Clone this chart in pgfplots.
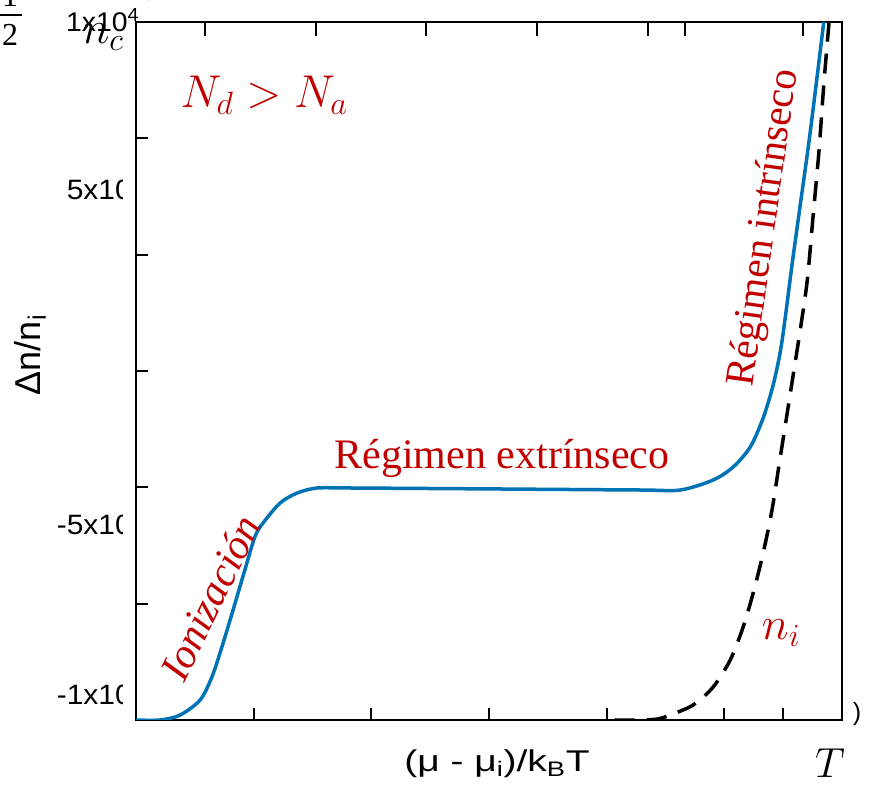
\RequirePackage{fix-cm}
\documentclass[border=0pt]{standalone}
\usepackage{pgfplots}
\pgfplotsset{compat=1.18}
\usepackage{fontspec}
\setmainfont{Liberation Serif}
\setsansfont{Liberation Sans}
\definecolor{curveblue}{RGB}{0,115,180}
\definecolor{labelred}{RGB}{192,0,0}

\begin{document}
\begin{tikzpicture}
\path[use as bounding box] (0,0) rectangle (872pt,786pt);

\begin{axis}[
    at={(136pt,66pt)}, anchor=south west, scale only axis,
    width=706pt, height=698pt,
    xmin=0, xmax=12, ymin=-10000, ymax=10000,
    tick align=inside, major tick length=12pt,
    tick style={line width=2.2pt, black},
    axis line style={line width=2.4pt, black},
    xticklabels={}, yticklabels={},
    xtick pos=bottom, ytick pos=left,
    xtick={2,4,6,8,10,11},
    ytick={-6667,-3333,0,3333,6667}]
% total carrier curve
\addplot[curveblue, line width=3.5pt, smooth, tension=0.5] coordinates {
  (0,-10000) (0.41,-10000) (0.75,-9857) (1.09,-9427) (1.29,-8768)
  (1.46,-7908) (1.65,-6848) (1.85,-5702) (2.02,-4756) (2.16,-4355)
  (2.45,-3782) (2.74,-3496) (3.08,-3352) (3.59,-3352) (6.19,-3381)
  (8.57,-3410) (9.25,-3410) (9.81,-3123) (10.15,-2751) (10.44,-2178)
  (10.66,-1347) (10.83,-401) (10.95,544) (11.03,1461) (11.15,3037)
  (11.29,4756) (11.46,6848) (11.69,10000)
};
% intrinsic n_i
\addplot[black, line width=3.5pt, dash pattern=on 20pt off 12pt, smooth, tension=0.5] coordinates {
  (8.14,-10000) (8.57,-10000) (8.87,-9971) (9.08,-9857) (9.47,-9570)
  (9.81,-9054) (10.10,-8281) (10.32,-7335) (10.49,-6361) (10.66,-5215)
  (10.81,-3983) (10.93,-2693) (11.05,-1404) (11.17,-115) (11.29,1175)
  (11.41,2607) (11.51,4470) (11.61,6332) (11.69,8195) (11.78,10000)
};
\end{axis}

% top edge ticks (other places than the bottom ones)
\draw[line width=2.4pt, black]
  (205pt,764pt) -- (205pt,750pt)
  (316pt,764pt) -- (316pt,750pt)
  (426pt,764pt) -- (426pt,750pt)
  (537pt,764pt) -- (537pt,750pt)
  (648pt,764pt) -- (648pt,750pt)
  (685pt,764pt) -- (685pt,750pt)
  (803pt,764pt) -- (803pt,750pt);

\begin{scope}[x=1pt, y=-1pt, yshift=786pt]
  % clipped tick labels
  \begin{scope}
    \clip (0,0) rectangle (122,786);
    \node[anchor=east, font=\sffamily\fontsize{28}{32}\selectfont, xscale=1.07, inner sep=0pt] at (132,190) {5x10};
    \node[anchor=east, font=\sffamily\fontsize{28}{32}\selectfont, xscale=1.07, inner sep=0pt] at (132,525) {-5x10};
    \node[anchor=east, font=\sffamily\fontsize{28}{32}\selectfont, xscale=1.07, inner sep=0pt] at (132,695) {-1x10};
  \end{scope}
  \node[anchor=west, font=\sffamily\fontsize{27}{30}\selectfont, xscale=1.05, inner sep=0pt] at (66,20) {1x10\textsuperscript{4}};
  \node[font=\sffamily\fontsize{25}{28}\selectfont, inner sep=0pt] at (857,714) {)};

  % pasted pieces at the top left
  \draw[line width=2.5pt] (0,15) -- (22,15);
  \node[font=\fontsize{32}{36}\selectfont, inner sep=0pt] at (10,-4) {1};
  \node[font=\fontsize{32}{36}\selectfont, inner sep=0pt] at (10,35) {2};
  \node[font=\fontsize{46}{52}\selectfont, inner sep=0pt] at (103,37) {$n_c$};

  % axis titles
  \node[font=\sffamily\fontsize{36}{40}\selectfont, rotate=90, inner sep=0pt] at (30,355) {Δn/n\textsubscript{i}};
  \node[font=\sffamily\fontsize{30}{34}\selectfont, xscale=1.3, inner sep=0pt] at (497,764) {(μ - μ\textsubscript{i})/k\textsubscript{B}T};
  \node[font=\fontsize{42}{46}\selectfont, inner sep=0pt] at (830,763) {$T$};

  % annotations
  \node[text=labelred, font=\fontsize{46}{50}\selectfont, inner sep=0pt] at (264,95) {$N_d > N_a$};
  \node[text=labelred, font=\fontsize{42}{46}\selectfont, inner sep=0pt] at (502,458) {Régimen extrínseco};
  \node[text=labelred, font=\fontsize{41}{46}\selectfont, rotate=82, inner sep=0pt] at (765,228) {Régimen intrínseco};
  \node[text=labelred, font=\itshape\fontsize{42}{46}\selectfont, rotate=64, inner sep=0pt] at (210,598) {Ionización};
  \node[text=labelred, font=\fontsize{46}{50}\selectfont, inner sep=0pt] at (781,633) {$n_i$};
\end{scope}
\end{tikzpicture}
\end{document}
